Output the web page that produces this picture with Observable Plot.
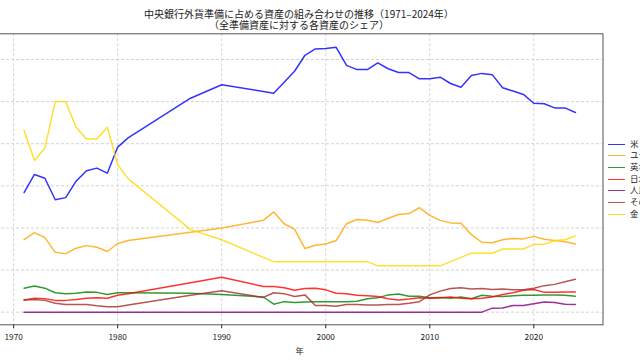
<!DOCTYPE html>
<html><head><meta charset="utf-8">
<script src="https://cdn.jsdelivr.net/npm/d3@7"></script>
<script src="https://cdn.jsdelivr.net/npm/@observablehq/plot@0.6"></script>
<style>
html,body{margin:0;padding:0;width:640px;height:360px;overflow:hidden;background:#fff;font-family:"Noto Sans CJK JP",sans-serif;}
#wrap{position:relative;width:640px;height:360px;overflow:hidden;}
#title{position:absolute;left:-4px;width:606px;top:7.5px;text-align:center;font-size:10px;line-height:11.5px;color:#222;}
#chart{position:absolute;left:0;top:31px;}
#legend{position:absolute;left:608px;top:137.5px;font-size:8.5px;color:#222;}
.item{height:11.7px;line-height:11.7px;white-space:nowrap;}
.sw{display:inline-block;width:17px;height:0;border-top:1.5px solid;vertical-align:middle;margin-right:5px;}
</style>
</head><body>
<div id="wrap">
  <div id="title"><div>中央銀行外貨準備に占める資産の組み合わせの推移（1971–2024年）</div><div>（全準備資産に対する各資産のシェア）</div></div>
  <div id="chart"></div>
  <div id="legend"></div>
</div>
<script>
const years = [1971,1972,1973,1974,1975,1976,1977,1978,1979,1980,1981,1987,1990,1994,1995,1996,1997,1998,1999,2000,2001,2002,2003,2004,2005,2006,2007,2008,2009,2010,2011,2012,2013,2014,2015,2016,2017,2018,2019,2020,2021,2022,2023,2024];
const usd  = [28.4,32.7,31.8,26.7,27.2,31.1,33.6,34.2,33.0,39.2,41.4,50.8,54.0,52.4,52.0,54.6,57.2,61.0,62.5,62.6,62.9,58.6,57.6,57.6,59.2,57.8,56.9,56.9,55.4,55.4,55.8,54.3,53.4,56.2,56.7,56.4,53.3,52.5,51.7,49.6,49.5,48.5,48.5,47.4];
const eur  = [17.2,18.9,17.7,14.2,13.9,15.2,15.8,15.4,14.4,16.3,17.0,19.0,20.0,21.8,23.8,21.0,19.7,15.1,15.9,16.2,17.0,21.0,22.0,21.8,21.3,22.3,23.2,23.4,24.8,23.0,21.8,21.2,21.1,18.4,16.6,16.5,17.2,17.5,17.4,18.0,17.3,17.0,16.7,16.2];
const gbp  = [5.7,6.2,5.7,4.6,4.4,4.5,4.8,4.7,4.2,4.6,4.6,4.5,4.2,3.6,1.9,2.5,2.3,2.4,2.5,2.5,2.5,2.5,2.6,3.2,3.4,4.1,4.3,3.8,3.8,3.4,3.5,3.3,3.6,3.2,4.0,3.8,3.7,3.9,4.0,4.0,4.1,4.1,4.0,3.8];
const jpy  = [2.9,3.3,3.2,2.8,2.8,3.0,3.3,3.4,3.3,4.0,4.4,7.0,8.3,6.1,6.1,5.8,5.2,5.6,5.7,5.3,4.5,4.4,4.0,3.9,3.7,3.2,2.9,3.1,3.4,3.3,3.4,3.6,3.3,3.2,3.3,3.6,4.2,4.6,5.2,5.4,4.7,4.7,4.8,4.8];
const cny  = [0,0,0,0,0,0,0,0,0,0,0,0,0,0,0,0,0,0,0,0,0,0,0,0,0,0,0,0,0,0,0,0,0,0,0,0.95,1.0,1.6,1.6,2.0,2.4,2.3,1.9,1.8];
const other= [2.9,3.0,2.8,2.1,1.8,1.8,1.8,1.5,1.3,1.3,1.7,4.0,5.1,3.5,4.6,4.4,3.7,4.1,1.6,1.6,1.4,1.8,1.8,1.7,1.7,1.8,1.8,2.1,2.5,4.1,5.0,5.6,5.8,5.5,5.6,5.4,5.5,5.3,5.3,5.7,6.3,6.6,7.2,7.8];
const gold = [43.2,36.0,39.0,50.0,50.0,43.9,41.1,41.1,43.9,35.0,31.7,19.6,17.2,13.0,12.0,12.0,12.0,12.0,12.0,12.0,12.0,12.0,12.0,12.0,11.0,11.0,11.0,11.0,11.0,11.0,11.0,12.0,13.0,14.0,14.0,14.0,15.0,15.0,15.0,16.1,16.1,17.0,17.2,18.1];
const seriesNames = ["米ドル","ユーロ","英ポンド","日本円","人民元","その他","金"];
const seriesColors = ["#0000ff","#ffa500","#008000","#ff0000","#800080","#a52a2a","#ffd700"];
const xTicks = [1970,1980,1990,2000,2010,2020];
const yTicks = [0,10,20,30,40,50,60];

const seriesValues = [usd,eur,gbp,jpy,cny,other,gold];
const rows = [];
seriesNames.forEach((name,i)=>{
  years.forEach((yr,j)=>rows.push({series:name, year:yr, value:seriesValues[i][j]}));
});

const chart = Plot.plot({
  width: 640, height: 329,
  marginLeft: -4, marginRight: 37.5, marginTop: 2.3, marginBottom: 35.7,
  style: {fontFamily: '"Noto Sans CJK JP", sans-serif', fontSize: "8.3px", color: "#222", background: "transparent"},
  x: {domain: [1968.35, 2026.65], ticks: xTicks, tickFormat: d => String(d), tickSize: 4, label: "年", labelAnchor: "center", labelOffset: 29, labelArrow: "none"},
  y: {domain: [-3.0, 66.1], axis: null},
  color: {domain: seriesNames, range: seriesColors},
  marks: [
    Plot.gridX(xTicks, {stroke: "#d4d4d4", strokeOpacity: 1, strokeDasharray: "3,2"}),
    Plot.gridY(yTicks, {stroke: "#d4d4d4", strokeOpacity: 1, strokeDasharray: "3,2"}),
    Plot.line(rows, {x: "year", y: "value", z: "series", stroke: "series", strokeWidth: 1.5, strokeOpacity: 0.8}),
    Plot.frame({stroke: "#555"})
  ]
});
document.getElementById("chart").appendChild(chart);

const leg = document.getElementById("legend");
seriesNames.forEach((n,i)=>{
  const d = document.createElement("div");
  d.className = "item";
  d.innerHTML = `<span class="sw" style="border-color:${seriesColors[i]};opacity:0.8"></span>${n}`;
  leg.appendChild(d);
});
</script>
</body></html>
